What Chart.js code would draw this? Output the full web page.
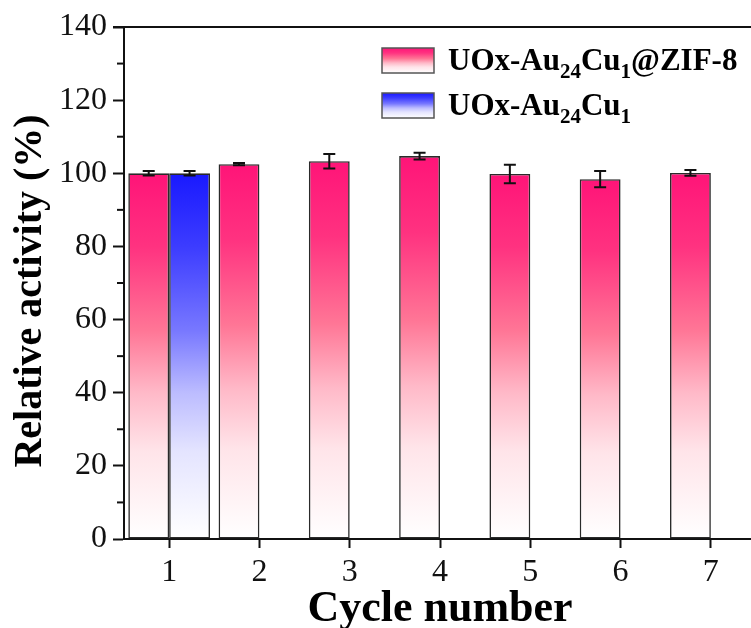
<!DOCTYPE html>
<html>
<head>
<meta charset="utf-8">
<script src="https://cdn.jsdelivr.net/npm/chart.js@4/dist/chart.umd.min.js"></script>
<style>
  html, body { margin: 0; padding: 0; overflow: hidden; background: #fff; }
  #wrap { width: 757px; height: 628px; position: relative; }
</style>
</head>
<body>
<div id="wrap"><canvas id="c"></canvas></div>
<script>
// ---- data ----
const categories = ['1', '2', '3', '4', '5', '6', '7'];
const zifValues  = [100.0, 102.5, 103.3, 104.7, 99.8, 98.4, 100.1];
const zifErrors  = [0.6, 0.3, 2.0, 0.9, 2.5, 2.2, 0.8];
const freeValues = [100.0, null, null, null, null, null, null];
const freeErrors = [0.6, null, null, null, null, null, null];
const yMin = 0, yMax = 140, yMajorStep = 20, yMinorStep = 10;
const xTitle = 'Cycle number';
const yTitle = 'Relative activity (%)';
const seriesNames = [
  [['UOx-Au', false], ['24', true], ['Cu', false], ['1', true], ['@ZIF-8', false]],
  [['UOx-Au', false], ['24', true], ['Cu', false], ['1', true]]
];

const SERIF = '"Liberation Serif", "Times New Roman", serif';
const PINK = [[0, 'rgb(255,20,120)'], [0.2, 'rgb(255,50,128)'], [0.43, 'rgb(255,118,150)'], [0.6, 'rgb(255,185,200)'], [0.76, 'rgb(255,228,233)'], [1, 'rgb(255,255,255)']];
const BLUE = [[0, 'rgb(25,25,255)'], [0.2, 'rgb(60,60,255)'], [0.43, 'rgb(120,120,255)'], [0.6, 'rgb(188,188,255)'], [0.76, 'rgb(228,228,255)'], [1, 'rgb(255,255,255)']];

function makeGrad(ctx2d, y0, y1, stops) {
  const g = ctx2d.createLinearGradient(0, y0, 0, y1);
  stops.forEach(s => g.addColorStop(s[0], s[1]));
  return g;
}
function barGradient(stops, fallback) {
  return function (context) {
    const chart = context.chart;
    if (!chart.chartArea || !chart.scales.y) return fallback;
    const ys = chart.scales.y;
    const v = (context.raw == null) ? 100 : context.raw;
    const top = ys.getPixelForValue(v);
    const bot = ys.getPixelForValue(0);
    if (!isFinite(top) || !isFinite(bot) || top === bot) return fallback;
    return makeGrad(chart.ctx, top, bot, stops);
  };
}

const extrasPlugin = {
  id: 'extras',
  afterDatasetsDraw(chart) {
    const ctx = chart.ctx;
    const ys = chart.scales.y;
    const area = chart.chartArea;
    ctx.save();
    // error bars
    const errs = [zifErrors, freeErrors];
    chart.data.datasets.forEach((ds, di) => {
      const meta = chart.getDatasetMeta(di);
      meta.data.forEach((bar, i) => {
        const v = ds.data[i], e = errs[di][i];
        if (v == null || e == null) return;
        const yt = ys.getPixelForValue(v + e);
        const yb = ys.getPixelForValue(v - e);
        const x = bar.x;
        ctx.strokeStyle = '#111';
        ctx.lineWidth = 2;
        ctx.beginPath();
        ctx.moveTo(x, yt); ctx.lineTo(x, yb);
        ctx.moveTo(x - 6, yt); ctx.lineTo(x + 6, yt);
        ctx.moveTo(x - 6, yb); ctx.lineTo(x + 6, yb);
        ctx.stroke();
      });
    });
    // top frame line
    ctx.strokeStyle = '#111';
    ctx.lineWidth = 2;
    const yTop = ys.getPixelForValue(yMax);
    ctx.beginPath();
    ctx.moveTo(area.left - 11, yTop);
    ctx.lineTo(chart.width, yTop);
    ctx.stroke();
    // minor ticks on y
    for (let v = yMin + yMinorStep; v < yMax; v += yMajorStep) {
      const y = ys.getPixelForValue(v);
      ctx.beginPath();
      ctx.moveTo(area.left - 7, y);
      ctx.lineTo(area.left, y);
      ctx.stroke();
    }
    // y axis title
    ctx.save();
    ctx.translate(31, (area.top + area.bottom) / 2 + 8);
    ctx.rotate(-Math.PI / 2);
    ctx.font = 'bold 40px ' + SERIF;
    ctx.fillStyle = '#000';
    ctx.textAlign = 'center';
    ctx.textBaseline = 'middle';
    ctx.fillText(yTitle, 0, 0);
    ctx.restore();
    // legend
    const boxX = 382, boxW = 52, boxH = 25;
    const rows = [{ y: 48, stops: PINK }, { y: 93, stops: BLUE }];
    rows.forEach((r, k) => {
      ctx.fillStyle = makeGrad(ctx, r.y, r.y + boxH, r.stops);
      ctx.fillRect(boxX, r.y, boxW, boxH);
      ctx.strokeStyle = '#555';
      ctx.lineWidth = 1.5;
      ctx.strokeRect(boxX, r.y, boxW, boxH);
      let x = 448;
      const base = r.y + 22;
      ctx.fillStyle = '#000';
      ctx.textBaseline = 'alphabetic';
      ctx.textAlign = 'left';
      seriesNames[k].forEach(([txt, sub]) => {
        ctx.font = sub ? 'bold 21px ' + SERIF : 'bold 31px ' + SERIF;
        ctx.fillText(txt, x, sub ? base + 8 : base);
        x += ctx.measureText(txt).width;
      });
    });
    ctx.restore();
  }
};

const chart = new Chart(document.getElementById('c'), {
  type: 'bar',
  data: {
    labels: categories,
    datasets: [
      {
        label: 'UOx-Au24Cu1@ZIF-8',
        data: zifValues,
        backgroundColor: barGradient(PINK, 'rgb(255,80,140)'),
        borderColor: '#2a2a2a',
        borderWidth: 1.6,
        borderSkipped: false
      },
      {
        label: 'UOx-Au24Cu1',
        data: freeValues,
        backgroundColor: barGradient(BLUE, 'rgb(80,80,255)'),
        borderColor: '#2a2a2a',
        borderWidth: 1.6,
        borderSkipped: false
      }
    ]
  },
  options: {
    responsive: true,
    maintainAspectRatio: false,
    animation: false,
    categoryPercentage: 0.905,
    barPercentage: 1.0,
    layout: { padding: { top: 27, right: 1, left: 0, bottom: 0 } },
    plugins: {
      legend: { display: false },
      tooltip: { enabled: false }
    },
    scales: {
      x: {
        offset: true,
        grid: {
          offset: false,
          drawOnChartArea: false,
          drawTicks: true,
          tickLength: 9,
          tickColor: '#111',
          tickWidth: 2
        },
        border: { display: true, color: '#111', width: 2 },
        ticks: {
          color: '#111',
          padding: 5,
          font: { family: SERIF, size: 32 }
        },
        title: {
          display: true,
          text: xTitle,
          color: '#000',
          padding: 0,
          font: { family: SERIF, size: 44, weight: 'bold', lineHeight: 0.85 }
        },
        afterFit(scale) { scale.height = 89; }
      },
      y: {
        min: yMin,
        max: yMax,
        grid: {
          drawOnChartArea: false,
          drawTicks: true,
          tickLength: 11,
          tickColor: '#111',
          tickWidth: 2
        },
        border: { display: true, color: '#111', width: 2 },
        ticks: {
          stepSize: yMajorStep,
          color: '#111',
          padding: 6,
          font: { family: SERIF, size: 32 }
        },
        title: { display: false },
        afterFit(scale) { scale.width = 124; }
      }
    }
  },
  plugins: [extrasPlugin]
});
</script>
</body>
</html>
